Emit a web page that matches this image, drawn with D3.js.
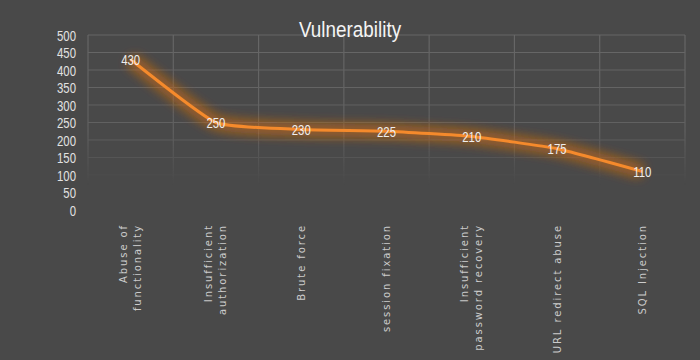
<!DOCTYPE html>
<html>
<head>
<meta charset="utf-8">
<script src="https://cdn.jsdelivr.net/npm/d3@7"></script>
<style>
  html, body { margin: 0; padding: 0; background: #494949; }
  #chart-container { width: 700px; height: 360px; }
</style>
</head>
<body>
<div id="chart-container"></div>
<script>
const categories = [
  ["Abuse of", "functionality"],
  ["Insufficient", "authorization"],
  ["Brute force"],
  ["session fixation"],
  ["Insufficient", "password recovery"],
  ["URL redirect abuse"],
  ["SQL Injection"],
];
const values = [430, 250, 230, 225, 210, 175, 110];
const yTicks = [0, 50, 100, 150, 200, 250, 300, 350, 400, 450, 500];

const width = 700, height = 360;
const margin = { top: 35, right: 15, bottom: 150, left: 88 };
const narrow = "scale(0.76,1)"; // squeeze to look like a narrow face

const svg = d3.select("#chart-container")
  .append("svg")
  .attr("width", width)
  .attr("height", height);

svg.append("rect").attr("width", width).attr("height", height).attr("fill", "#494949");

const defs = svg.append("defs");

// glow behind the line
const glow = defs.append("filter").attr("id", "glow")
  .attr("x", "-20%").attr("y", "-50%").attr("width", "140%").attr("height", "200%");
glow.append("feGaussianBlur").attr("in", "SourceGraphic").attr("stdDeviation", 6).attr("result", "blur");
const merge = glow.append("feMerge");
merge.append("feMergeNode").attr("in", "blur");
merge.append("feMergeNode").attr("in", "blur");

// grid fades out toward the bottom
const grad = defs.append("linearGradient").attr("id", "fade")
  .attr("x1", 0).attr("y1", 0).attr("x2", 0).attr("y2", 1);
grad.append("stop").attr("offset", "0%").attr("stop-color", "#fff").attr("stop-opacity", 1);
grad.append("stop").attr("offset", "55%").attr("stop-color", "#fff").attr("stop-opacity", 0.8);
grad.append("stop").attr("offset", "85%").attr("stop-color", "#fff").attr("stop-opacity", 0);
const mask = defs.append("mask").attr("id", "gridMask");
mask.append("rect")
  .attr("x", 0).attr("y", margin.top - 2)
  .attr("width", width).attr("height", height - margin.bottom - margin.top + 4)
  .attr("fill", "url(#fade)");

const x = d3.scaleBand()
  .domain(d3.range(categories.length))
  .range([margin.left, width - margin.right]);

const y = d3.scaleLinear()
  .domain([0, 500])
  .range([height - margin.bottom, margin.top]);

const cx = (i) => x(i) + x.bandwidth() / 2;

// Grid
const grid = svg.append("g").attr("mask", "url(#gridMask)");
grid.selectAll(".hgrid")
  .data(yTicks)
  .enter()
  .append("line")
  .attr("x1", margin.left)
  .attr("x2", width - margin.right)
  .attr("y1", (d) => y(d))
  .attr("y2", (d) => y(d))
  .attr("stroke", "#676767")
  .attr("stroke-width", 1.2);
grid.selectAll(".vgrid")
  .data(d3.range(categories.length + 1))
  .enter()
  .append("line")
  .attr("x1", (d) => margin.left + d * x.step())
  .attr("x2", (d) => margin.left + d * x.step())
  .attr("y1", y(500))
  .attr("y2", y(0))
  .attr("stroke", "#676767")
  .attr("stroke-width", 1.2);

// Y axis
const yAxis = d3.axisLeft(y).tickValues(yTicks).tickSize(0).tickPadding(0);
const yg = svg.append("g")
  .attr("transform", `translate(${margin.left - 12}, 0)`)
  .call(yAxis);
yg.select(".domain").remove();
yg.selectAll("text")
  .attr("fill", "#e2e2e2")
  .attr("dy", "0.36em")
  .attr("transform", narrow)
  .style("font-family", "'Liberation Sans', Arial, sans-serif")
  .style("font-size", "15px");

// Title
svg.append("text")
  .attr("transform", "translate(350, 37) scale(0.84,1)")
  .attr("text-anchor", "middle")
  .attr("fill", "#f4f4f4")
  .style("font-family", "'Liberation Sans', Arial, sans-serif")
  .style("font-size", "22.5px")
  .text("Vulnerability");

// Line
const line = d3.line()
  .x((d, i) => cx(i))
  .y((d) => y(d))
  .curve(d3.curveCardinal.tension(0.55));

svg.append("path")
  .datum(values)
  .attr("d", line)
  .attr("fill", "none")
  .attr("stroke", "#c96a1c")
  .attr("stroke-width", 12)
  .attr("stroke-opacity", 0.45)
  .attr("filter", "url(#glow)");

svg.append("path")
  .datum(values)
  .attr("d", line)
  .attr("fill", "none")
  .attr("stroke", "#f58a2c")
  .attr("stroke-width", 3)
  .attr("stroke-linejoin", "round");

// Data labels
svg.selectAll(".dlabel")
  .data(values)
  .enter()
  .append("text")
  .attr("transform", (d, i) => `translate(${cx(i)}, ${y(d) + 5.5}) ${narrow}`)
  .attr("text-anchor", "middle")
  .attr("fill", "#eeeeee")
  .style("font-family", "'Liberation Sans', Arial, sans-serif")
  .style("font-size", "15px")
  .text((d) => d);

// Category labels (rotated)
const cat = svg.selectAll(".cat")
  .data(categories)
  .enter()
  .append("text")
  .attr("transform", (d, i) => `translate(${cx(i)}, 224) rotate(-90)`)
  .attr("text-anchor", "end")
  .attr("fill", "#cccccc")
  .style("font-family", "'DejaVu Sans', sans-serif")
  .style("font-size", "10px")
  .style("letter-spacing", "1.9px");

cat.each(function (d) {
  const t = d3.select(this);
  const n = d.length;
  d.forEach((s, k) => {
    t.append("tspan")
      .attr("x", 0)
      .attr("y", (k - (n - 1) / 2) * 14 + 3.5)
      .text(s);
  });
});
</script>
</body>
</html>
